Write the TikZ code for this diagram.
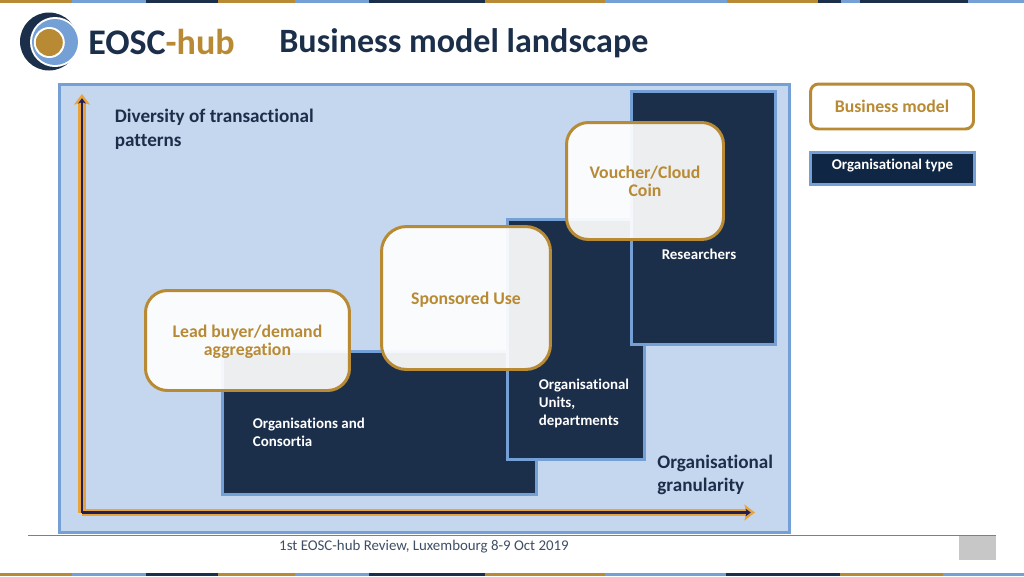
\documentclass[tikz,border=0pt]{standalone}
\usepackage{fontspec}
\setmainfont{Carlito}[Ligatures=NoCommon]
\usepackage{tikz}
\usetikzlibrary{arrows.meta}

\definecolor{navy}{HTML}{1C2F4A}
\definecolor{deepnavy}{HTML}{0F2744}
\definecolor{gold}{HTML}{B88A33}
\definecolor{amber}{HTML}{E8A33A}
\definecolor{skyblue}{HTML}{74A0D5}
\definecolor{paleblue}{HTML}{C5D7EF}
\definecolor{arrownavy}{HTML}{1F1F5C}

\begin{document}
\begin{tikzpicture}[x=0.02cm,y=-0.02cm,
	orgbox/.style={rectangle, draw=skyblue, fill=navy, line width=1.7pt, text=white, font=\fontsize{8.5}{10.2}\selectfont\bfseries},
	modelbox/.style={rectangle, rounded corners=0.44cm, draw=gold, fill=white, fill opacity=0.92, text opacity=1, line width=1.7pt, text=gold, align=center, font=\fontsize{10.1}{10.2}\selectfont\bfseries},
	orglabel/.style={text=white, align=left, inner sep=0pt, font=\fontsize{8.5}{10.3}\selectfont\bfseries},
	axislabel/.style={text=navy, align=left, inner sep=0pt, font=\fontsize{10.9}{13.4}\selectfont\bfseries},
	axisback/.style={-{Stealth[length=6pt,width=9pt,inset=1.2pt]}, draw=amber, line width=4pt},
	axisfront/.style={-{Stealth[length=3pt,width=4.4pt,inset=0.8pt]}, shorten >=2.4pt, draw=arrownavy, line width=1.4pt}]

	\useasboundingbox (0,0) rectangle (1024,576);

	% Top stripes
	\fill[gold] (0,0) rectangle (72,3);
	\fill[skyblue] (72,0) rectangle (146,3);
	\fill[navy] (146,0) rectangle (218,3);
	\fill[gold] (218,0) rectangle (295,3);
	\fill[skyblue] (295,0) rectangle (369,3);
	\fill[navy] (369,0) rectangle (485,3);
	\fill[gold] (485,0) rectangle (605,3);
	\fill[skyblue] (605,0) rectangle (727,3);
	\fill[gold] (727,0) rectangle (818,3);
	\fill[navy] (818,0) rectangle (841,3);
	\fill[skyblue] (841,0) rectangle (860,3);
	\fill[navy] (860,0) rectangle (968,3);
	\fill[skyblue] (968,0) rectangle (1024,3);

	% Bottom stripes
	\fill[gold] (0,573) rectangle (72,576);
	\fill[skyblue] (72,573) rectangle (146,576);
	\fill[navy] (146,573) rectangle (218,576);
	\fill[gold] (218,573) rectangle (295,576);
	\fill[skyblue] (295,573) rectangle (369,576);
	\fill[navy] (369,573) rectangle (485,576);
	\fill[gold] (485,573) rectangle (605,576);
	\fill[skyblue] (605,573) rectangle (726,576);
	\fill[navy] (726,573) rectangle (840,576);
	\fill[gold] (840,573) rectangle (943,576);
	\fill[skyblue] (943,573) rectangle (1024,576);

	% Logo
	\fill[navy] (49,41.5) circle (0.58cm);
	\fill[white] (55,42) circle (0.5cm);
	\fill[skyblue] (55,42) circle (0.46cm);
	\fill[white] (49.3,42.5) circle (0.31cm);
	\fill[gold] (49.3,42.5) circle (0.27cm);
	\node (logotext) at (161.5,41.5) [inner sep=0pt, font=\fontsize{20.5}{24}\selectfont\bfseries] {\textcolor{navy}{EOSC}\textcolor{gold}{-hub}};

	% Title
	\node (title) at (279,43) [anchor=west, inner sep=0pt, text=navy, font=\fontsize{19.4}{22}\selectfont\bfseries] {Business model landscape};

	% Footer
	\draw[gray, line width=0.8pt] (28,535.5) -- (996,535.5);
	\fill[black!22] (959,536) rectangle (996,560);
	\node (footer) at (424,547) [inner sep=0pt, text=navy!85!white, font=\fontsize{8.47}{10}\selectfont] {1st EOSC-hub Review, Luxembourg 8-9 Oct 2019};

	% Panel
	\node (panel) at (424.5,308.75) [rectangle, draw=skyblue, fill=paleblue, line width=1.7pt, minimum width=14.6cm, minimum height=8.97cm] {};

	% Organisations
	\node (organisations) at (379.5,423) [orgbox, minimum width=6.28cm, minimum height=2.86cm] {};
	\node (units) at (576,339.5) [orgbox, minimum width=2.74cm, minimum height=4.8cm] {};
	\node (researchers) at (703.5,218) [orgbox, minimum width=2.88cm, minimum height=5.06cm] {};
	\node (organisationslabel) at (252.5,432.5) [orglabel, anchor=west] {Organisations and\\Consortia};
	\node (unitslabel) at (538.5,403.5) [orglabel, anchor=west] {Organisational\\Units,\\departments};
	\node (researcherslabel) at (699,254) [orglabel] {Researchers};

	% Models
	\node (leadbuyer) at (247.5,340.5) [modelbox, text depth=0pt, minimum width=4.08cm, minimum height=2cm] {Lead buyer/demand\\aggregation};
	\node (sponsored) at (466,298) [modelbox, text depth=0pt, rounded corners=0.5cm, minimum width=3.38cm, minimum height=2.86cm] {Sponsored Use};
	\node (voucher) at (645,181) [modelbox, minimum width=3.14cm, minimum height=2.34cm] {Voucher/Cloud\\Coin};

	% Axes
	\coordinate (origin) at (82,512.5);
	\coordinate (ytip) at (82,94);
	\coordinate (xtip) at (755,512.5);
	\draw[axisback] (origin) -- (ytip);
	\draw[axisback] (origin) -- (xtip);
	\draw[axisfront] (origin) -- (ytip);
	\draw[axisfront] (origin) -- (xtip);
	\node (ylabel) at (114.5,129.5) [axislabel, anchor=west] {Diversity of transactional\\patterns};
	\node (xlabel) at (657,475) [axislabel, anchor=west] {Organisational\\granularity};

	% Legend
	\node (legendmodel) at (892,106.5) [modelbox, rounded corners=0.16cm, fill opacity=1, minimum width=3.26cm, minimum height=0.9cm] {Business model};
	\node (legendtype) at (892.5,168.5) [orgbox, fill=deepnavy, minimum width=3.28cm, minimum height=0.64cm] {};
	\node (legendtypelabel) at (892.5,166) [orglabel] {Organisational type};

\end{tikzpicture}
\end{document}
